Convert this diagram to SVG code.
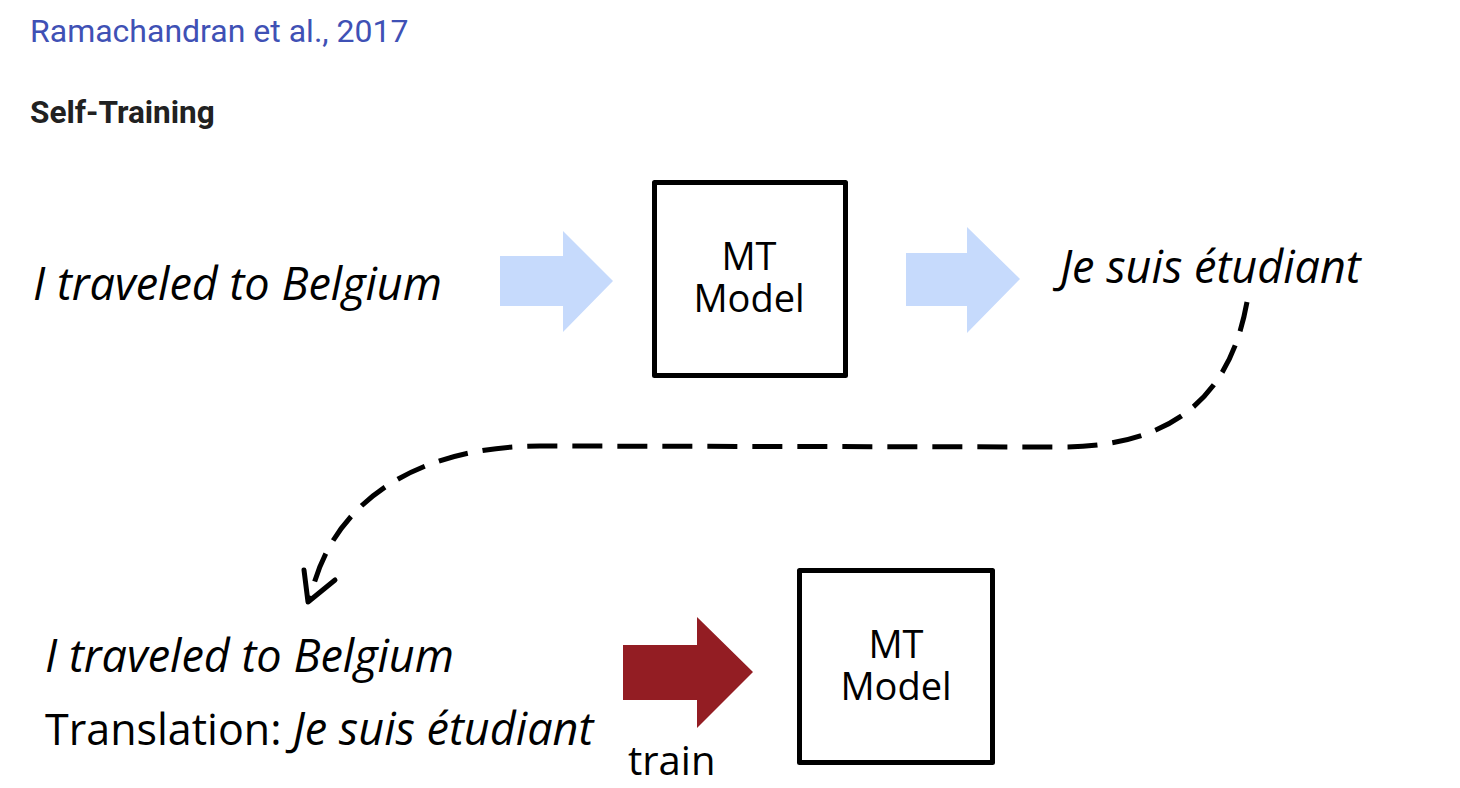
<svg xmlns="http://www.w3.org/2000/svg" width="1460" height="788" viewBox="0 0 1460 788">
<style>
.cite{font-family:Roboto,"Liberation Sans",sans-serif;font-size:32px;fill:#3f51b5}
.head{font-family:Roboto,"Liberation Sans",sans-serif;font-size:31.5px;font-weight:bold;fill:#212121}
.it{font-family:"Open Sans","Noto Sans",sans-serif;font-style:italic;font-size:45px;fill:#000}
.rg{font-family:"Open Sans","Noto Sans",sans-serif;font-size:40px;fill:#000}
.tr{font-size:43px}
.box{fill:#fff;stroke:#000;stroke-width:5;stroke-linejoin:round}
.mt{font-family:"Open Sans","Noto Sans",sans-serif;font-size:38px;fill:#000;text-anchor:middle}
.blue{fill:#c6dafc}
.red{fill:#931d23}
.dash{fill:none;stroke:#000;stroke-width:5;stroke-dasharray:30 15}
</style>
<rect width="1460" height="788" fill="#fff"/>
<text class="cite" x="30" y="42">Ramachandran et al., 2017</text>
<text class="head" x="30" y="123">Self-Training</text>

<g id="src1"><text class="it" x="33" y="300">I traveled to Belgium</text></g>
<g id="model1">
<rect class="box" x="654.5" y="182.5" width="191" height="193"/>
<text class="mt"><tspan x="749" y="270">MT</tspan><tspan x="749" y="312">Model</tspan></text>
</g>
<g id="out1"><text class="it" x="1060" y="283">Je suis étudiant</text></g>
<g id="pair">
<text class="it" x="45" y="672">I traveled to Belgium</text>
<text x="45" y="745"><tspan class="rg tr">Translation: </tspan><tspan class="it">Je suis étudiant</tspan></text>
</g>
<g id="model2">
<rect class="box" x="799.5" y="570.5" width="193" height="192"/>
<text class="mt"><tspan x="896" y="658">MT</tspan><tspan x="896" y="700">Model</tspan></text>
</g>
<g id="connectors">
<polygon class="blue" points="500,256 563,256 563,231 613,281 563,332 563,306 500,306"/>
<polygon class="blue" points="906,253 967,253 967,227 1020,279 967,333 967,306 906,306"/>
<path class="dash" d="M1247,302 C1232,385 1185,447 1060,447 L540,446 C420,446 330,500 310,600"/>
<polyline points="304,570 308,602 335,580" fill="none" stroke="#000" stroke-width="5" stroke-linejoin="round" stroke-linecap="round"/>
<polygon class="red" points="623,645 697,645 697,617 753,672 697,728 697,700 623,700"/>
<text class="rg" x="628" y="775">train</text>
</g>
</svg>
